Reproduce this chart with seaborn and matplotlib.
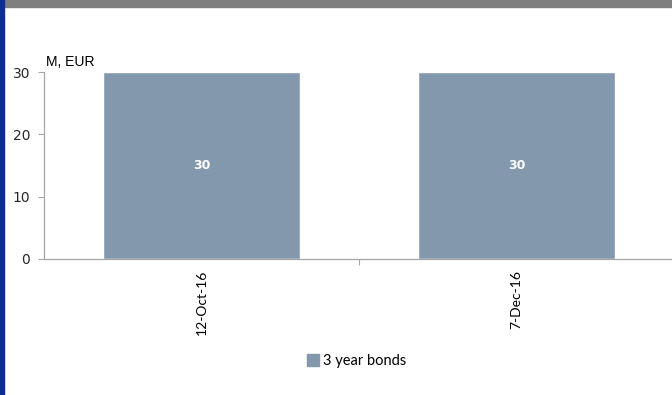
import matplotlib.pyplot as plt
import matplotlib.patches as mpatches
import pandas as pd
import seaborn as sns

dates = ["12-Oct-16", "7-Dec-16"]
values = [30, 30]
series_name = "3 year bonds"
y_ticks = [0, 10, 20, 30]

BAR_COLOR = "#8498ad"
SPINE_COLOR = "#a6a6a6"


def main() -> None:
    sns.set_theme(style="white")
    plt.rcParams["font.family"] = ["DejaVu Sans"]

    df = pd.DataFrame({"date": dates, "value": values, "series": series_name})

    fig = plt.figure(figsize=(6.72, 3.95), dpi=100)
    ax = fig.add_axes([44 / 672, 1 - 259 / 395, 630 / 672, (259 - 72) / 395])

    sns.barplot(
        data=df,
        x="date",
        y="value",
        hue="series",
        palette=[BAR_COLOR],
        width=0.625,
        ax=ax,
        legend=False,
        saturation=1,
    )

    for container in ax.containers:
        ax.bar_label(container, label_type="center", color="white", fontsize=9, fontweight="bold")

    ax.set_ylim(0, 30)
    ax.set_yticks(y_ticks)
    ax.set_xlim(-0.5, 1.5)
    ax.set_xlabel("")
    ax.set_ylabel("")
    ax.tick_params(axis="y", labelsize=10, colors="#262626", length=4, width=0.8, color=SPINE_COLOR, left=True, pad=6)
    ax.tick_params(axis="x", length=0, pad=8)
    ax.set_xticks([0.5], minor=True)
    ax.tick_params(axis="x", which="minor", length=4, width=0.8, color=SPINE_COLOR, bottom=True)
    for label in ax.get_xticklabels():
        label.set_rotation(90)
        label.set_fontfamily("Lato")
        label.set_fontsize(10)
        label.set_color("black")

    for side in ["top", "right"]:
        ax.spines[side].set_visible(False)
    for side in ["left", "bottom"]:
        ax.spines[side].set_color(SPINE_COLOR)
        ax.spines[side].set_linewidth(0.9)

    fig.text(46 / 672, 1 - 62 / 395, "M, EUR", fontsize=10, family="Liberation Sans", color="black",
             va="center", ha="left")

    handle = mpatches.Patch(color=BAR_COLOR, label=series_name)
    fig.legend(
        handles=[handle],
        loc="center",
        bbox_to_anchor=(357 / 672, 1 - 361 / 395),
        frameon=False,
        prop={"family": "Lato", "size": 10.5},
        labelcolor="black",
        handlelength=0.8,
        handleheight=0.8,
        handletextpad=0.3,
    )

    # frame decorations: grey band on top, blue strip on left
    fig.add_artist(mpatches.Rectangle((0, 1 - 7 / 395), 1, 7 / 395, transform=fig.transFigure, color="#7f7f7f"))
    fig.add_artist(mpatches.Rectangle((0, 0), 4 / 672, 1, transform=fig.transFigure, color="#0b2f8a"))

    fig.savefig("out.png", dpi=100)


if __name__ == "__main__":
    main()
